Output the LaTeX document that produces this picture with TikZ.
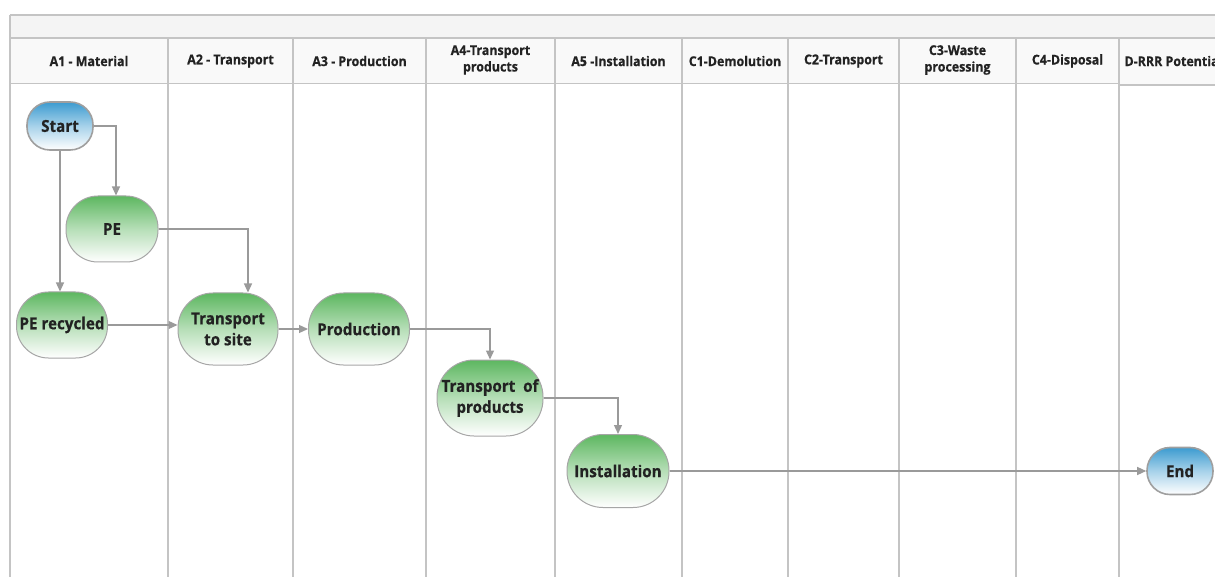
\documentclass[tikz,border=0pt]{standalone}
\usepackage{fontspec}
\setmainfont{Open Sans}[FakeStretch=0.92, BoldFeatures={FakeBold=0.6}]
\usetikzlibrary{calc,arrows.meta}
\definecolor{gridc}{HTML}{C4C4C4}
\definecolor{bandc}{HTML}{F4F4F4}
\definecolor{headc}{HTML}{F9F9F9}
\definecolor{greentop}{HTML}{5DB760}
\definecolor{bluetop}{HTML}{3C9BD0}
\definecolor{linec}{HTML}{9A9A9A}
\definecolor{txtc}{HTML}{222222}
\tikzset{
  grid/.style={draw=gridc, line width=1.6pt},
  hdr/.style={font=\fontsize{13.5}{16.5}\selectfont\bfseries, text=txtc, align=center},
  proc/.style={draw=gray!70, line width=1pt, top color=greentop, bottom color=white, middle color=greentop!45!white,
    rounded corners=28pt, align=center, font=\fontsize{16.5}{21}\selectfont\bfseries, text=txtc, inner sep=0pt},
  term/.style={draw=gray!75, line width=1.6pt, top color=bluetop, bottom color=white, middle color=bluetop!45!white,
    rounded corners=20pt, align=center, font=\fontsize{16.5}{21}\selectfont\bfseries, text=txtc, inner sep=0pt},
  conn/.style={draw=linec, line width=1.3pt, -{Triangle[length=9pt,width=8pt]}},
}
\begin{document}
\begin{tikzpicture}[x=1pt,y=-1pt]
\useasboundingbox (0,0) rectangle (1215,577);
\clip (0,0) rectangle (1215,577);
\fill[white] (0,0) rectangle (1215,577);
% bands
\fill[bandc] (10,15) rectangle (1230,38);
\fill[headc] (10,38) rectangle (1230,84);
\draw[grid] (10,15) -- (1230,15);
\draw[grid] (10,38) -- (1230,38);
\draw[grid] (10,83.5) -- (1118,83.5);
\draw[grid] (1118,85) -- (1230,85);
\draw[grid] (10,15) -- (10,580);
\foreach \x in {168,293,426,555,682,788,899,1016,1119}
  \draw[grid] (\x,38) -- (\x,580);
% headers
\node[hdr] (h1) at (89,61) {A1 - Material};
\node[hdr] (h2) at (230.5,61) {A2 - Transport};
\node[hdr] (h3) at (359.5,61) {A3 - Production};
\node[hdr] (h4) at (490.5,60) {A4-Transport\\products};
\node[hdr] (h5) at (618.5,61) {A5 -Installation};
\node[hdr] (h6) at (735,61) {C1-Demolution};
\node[hdr] (h7) at (843.5,61) {C2-Transport};
\node[hdr] (h8) at (957.5,60) {C3-Waste\\processing};
\node[hdr] (h9) at (1067.5,61) {C4-Disposal};
\node[hdr, anchor=west] (h10) at (1121,61) {D-RRR Potential};
% nodes
\node[term, minimum width=66pt, minimum height=48pt, rounded corners=23pt] (start) at (60,126) {Start};
\node[proc, minimum width=92pt, minimum height=66pt, rounded corners=32pt] (pe) at (112,229) {PE};
\node[proc, minimum width=91pt, minimum height=66pt, rounded corners=32pt] (perec) at (62,325) {PE recycled};
\node[proc, minimum width=100pt, minimum height=72pt, rounded corners=35pt] (tsite) at (228,329) {Transport\\to site};
\node[proc, minimum width=101pt, minimum height=72pt, rounded corners=35pt] (prod) at (359,329) {Production};
\node[proc, minimum width=106pt, minimum height=76pt, rounded corners=37pt] (tprod) at (490,398) {Transport~~of\\products};
\node[proc, minimum width=102pt, minimum height=73pt, rounded corners=36pt] (inst) at (618,471) {Installation};
\node[term, minimum width=66pt, minimum height=47pt, rounded corners=23pt] (end) at (1180,471) {End};
% connectors
\coordinate (peIn) at ($(pe.north)+(4,0)$);
\draw[conn] (start.east) -| (peIn);
\draw[conn] (start.south) -- (start.south |- perec.north);
\coordinate (tsIn) at ($(tsite.north)+(20,0)$);
\draw[conn] (pe.east) -| (tsIn);
\draw[conn] (perec.east) -- (tsite.west |- perec.east);
\draw[conn] (tsite.east) -- (prod.west);
\draw[conn] (prod.east) -| (tprod.north);
\draw[conn] (tprod.east) -| (inst.north);
\draw[conn] (inst.east) -- (end.west);
\end{tikzpicture}
\end{document}
